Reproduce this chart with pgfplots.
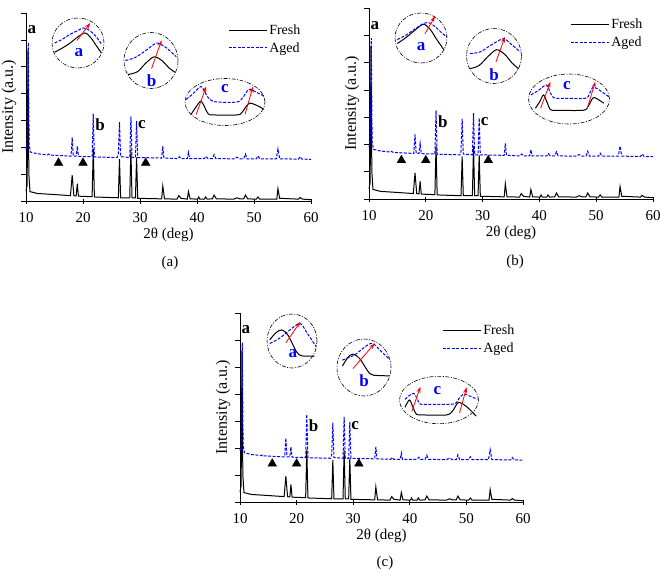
\documentclass[border=0pt]{standalone}
\usepackage{fontspec}
\setmainfont{Liberation Serif}
\usepackage{pgfplots}
\usepackage{pgfplotstable}
\pgfplotsset{compat=1.18}
\usetikzlibrary{arrows.meta}

\newcommand{\fs}[1]{\fontsize{#1}{#1}\selectfont}

% fresh sample
\pgfplotstableread{
x y
10.0 0.37
10.2 0.6
10.35 5.6
10.5 1.0
10.7 0.35
12 0.28
15 0.24
17.8 0.2
18.1 0.96
18.4 0.2
18.8 0.19
19.0 0.65
19.2 0.18
21.6 0.16
21.8 1.95
22.0 0.15
26.2 0.12
26.4 1.56
26.6 0.12
28.2 0.12
28.4 1.94
28.6 0.12
29.2 0.12
29.4 1.62
29.6 0.1
33.8 0.08
34.0 0.56
34.3 0.08
36.5 0.07
36.8 0.2
37.2 0.1
38.3 0.07
38.5 0.35
38.8 0.08
40.1 0.07
40.3 0.15
40.5 0.07
41.3 0.07
41.5 0.15
41.8 0.07
42.7 0.08
43.0 0.22
43.4 0.08
46.5 0.07
47.0 0.12
47.5 0.08
48.2 0.08
48.5 0.22
48.9 0.08
50.4 0.07
50.7 0.15
51.0 0.07
54.0 0.07
54.2 0.46
54.5 0.1
57.8 0.07
58.1 0.13
58.5 0.07
60.0 0.05
}\fresh

% aged sample
\pgfplotstableread{
x y
10.0 1.9
10.25 2.2
10.4 5.9
10.55 2.1
10.8 1.82
12 1.76
13.8 1.72
14.0 1.75
14.2 1.71
16 1.69
17.9 1.67
18.1 2.37
18.3 1.67
18.8 1.67
19.0 2.04
19.2 1.66
21.6 1.65
21.8 3.25
22.0 1.64
26.0 1.62
26.2 1.75
26.4 2.94
26.6 1.65
28.2 1.62
28.4 3.15
28.6 1.62
29.2 1.62
29.4 2.97
29.6 1.62
33.8 1.6
34.0 2.04
34.2 1.6
36.6 1.58
36.9 1.65
37.2 1.58
38.3 1.58
38.5 1.81
38.7 1.58
41.3 1.58
41.6 1.66
41.9 1.58
42.7 1.58
43.0 1.73
43.3 1.58
46.5 1.57
47.0 1.63
47.5 1.57
48.2 1.57
48.5 1.75
48.8 1.57
50.4 1.57
50.7 1.68
51.0 1.57
53.9 1.57
54.2 1.94
54.5 1.57
57.8 1.56
58.1 1.65
58.4 1.56
60.0 1.55
}\aged

\tikzset{lbl/.style={font=\bfseries\fs{17}}}

\pgfplotsset{
  xrd/.style={
    scale only axis, anchor=south west,
    xmin=10, xmax=60, ymin=0, ymax=7,
    axis x line*=bottom, axis y line*=left,
    xtick={10,20,...,60}, ytick={0,...,7}, yticklabels={},
    tick align=outside, major tick length=5pt,
    xtick style={yshift=2.5pt},
    tick style={black, line width=0.7pt},
    axis line style={line width=0.7pt},
    ticklabel style={font=\fs{15}},
    xticklabel style={yshift=-3pt},
    /pgf/number format/assume math mode=true,
    every axis x label/.style={at={([yshift=-34pt]axis description cs:0.5,0)}, anchor=center, font=\fs{15}},
    every axis y label/.style={at={([xshift=-17pt]axis description cs:0,0.5)}, anchor=center, rotate=90, font=\fs{16}},
    xlabel={2θ (deg)}, ylabel={Intensity (a.u.)},
    legend style={draw=none, fill=none, inner sep=0pt, anchor=north west, font=\fs{14},
      cells={anchor=west}, row sep=2pt},
    legend image code/.code={\draw[##1] (0pt,0pt) -- (38pt,0pt);},
    clip=false,
  },
  inset/.style={hide axis, anchor=center, xmin=-1, xmax=1, ymin=-1, ymax=1, clip=false},
}

\newcommand{\mainplots}{%
  \addplot[black, line width=1pt] table {\fresh};
  \addplot[blue, line width=1pt, dash pattern=on 3pt off 1.5pt] table {\aged};
  \legend{Fresh, Aged}
  \addplot[only marks, mark=triangle*, mark size=5pt, black, forget plot]
    coordinates {(15.7,1.42) (20,1.42) (31,1.42)};
  \node[lbl] at (axis cs:11.05,6.37) {a};
  \node[lbl] at (axis cs:23.0,2.83) {b};
  \node[lbl] at (axis cs:30.35,2.83) {c};
}

\newcommand{\arr}[2]{\draw[red, line width=0.8pt, -{Stealth[length=6pt,width=4pt]}] (axis cs:#1) -- (axis cs:#2);}
\newcommand{\ilbl}[2]{\node[blue, lbl] at (axis cs:#1) {#2};}

% cx cy rx ry black blue extras
\newcommand{\inset}[7]{%
  \begin{axis}[inset, at={(#1pt,-#2pt)}, x=#3pt, y=#4pt]
    \addplot[black, line width=1pt, smooth] coordinates {#5};
    \addplot[blue, line width=1pt, dash pattern=on 3pt off 1.5pt, smooth] coordinates {#6};
    #7
  \end{axis}
  \draw[line width=0.6pt, dash pattern=on 4pt off 1.5pt on 1pt off 1.5pt]
    (#1pt,-#2pt) ellipse [x radius=#3pt, y radius=#4pt];
}

\begin{document}
\begin{tikzpicture}
\useasboundingbox (0pt,0pt) rectangle (660pt,-571pt);

% ---------- (a)
\begin{axis}[xrd, at={(26pt,-201pt)}, width=285pt, height=188pt,
  legend style={at={(axis description cs:0.709,0.947)}}]
  \mainplots
\end{axis}
\inset{78}{43}{26}{25}
  {(-0.9,-0.37) (-0.6,-0.2) (-0.3,0.0) (0,0.25) (0.28,0.4) (0.5,0.2) (0.7,-0.1) (0.9,-0.4)}
  {(-0.9,0) (-0.6,0.15) (-0.3,0.35) (0,0.5) (0.2,0.6) (0.45,0.5) (0.7,0.25) (0.9,-0.04)}
  {\arr{-0.04,0.1}{0.47,0.8} \ilbl{0.03,-0.37}{a}}
\inset{151}{60.5}{27}{28}
  {(-0.85,-0.5) (-0.5,-0.4) (-0.2,-0.1) (0.11,0.13) (0.4,0.0) (0.65,-0.25) (0.88,-0.42)}
  {(-0.95,0) (-0.6,0.1) (-0.2,0.35) (0.2,0.62) (0.5,0.5) (0.75,0.3) (0.94,0.13)}
  {\arr{0.02,-0.29}{0.39,0.72} \ilbl{0.02,-0.72}{b}}
\inset{225}{102}{40}{23.5}
  {(-0.85,-0.53) (-0.72,-0.2) (-0.6,0.04) (-0.5,-0.25) (-0.42,-0.5) (-0.3,-0.55) (0.3,-0.55) (0.42,-0.45) (0.6,-0.06) (0.8,-0.15) (0.97,-0.31)}
  {(-0.97,0.11) (-0.8,0.35) (-0.6,0.66) (-0.48,0.35) (-0.38,0.11) (-0.2,0.0) (0.3,0.0) (0.45,0.2) (0.6,0.54) (0.8,0.4) (0.97,0.26)}
  {\arr{-0.72,-0.53}{-0.47,0.66} \arr{0.5,-0.53}{0.7,0.66} \ilbl{0,0.57}{c}}
\node[font=\fs{15}] at (170pt,-263pt) {(a)};

% ---------- (b)
\begin{axis}[xrd, at={(369pt,-199pt)}, width=284pt, height=191pt,
  legend style={at={(axis description cs:0.708,0.953)}}]
  \mainplots
\end{axis}
\inset{421}{38}{26}{25}
  {(-0.91,-0.22) (-0.6,0.0) (-0.25,0.3) (0.09,0.55) (0.35,0.35) (0.6,-0.05) (0.88,-0.47)}
  {(-0.91,-0.06) (-0.6,0.1) (-0.25,0.35) (0.05,0.55) (0.28,0.62) (0.55,0.45) (0.8,0.2) (1.0,0.04)}
  {\arr{0.15,0.17}{0.54,0.87} \ilbl{0,-0.35}{a}}
\inset{494}{56}{27.5}{27.5}
  {(-0.88,-0.46) (-0.55,-0.35) (-0.2,0.0) (0.1,0.23) (0.4,0.05) (0.65,-0.25) (0.89,-0.46)}
  {(-0.88,0.09) (-0.5,0.15) (-0.1,0.4) (0.34,0.63) (0.6,0.45) (0.95,0.15)}
  {\arr{0.07,-0.22}{0.4,0.7} \ilbl{0,-0.67}{b}}
\inset{569}{99}{40.5}{25}
  {(-0.83,-0.37) (-0.72,-0.1) (-0.63,0.16) (-0.55,-0.1) (-0.46,-0.42) (-0.3,-0.45) (0.35,-0.45) (0.47,-0.3) (0.6,0.05) (0.75,-0.05) (0.86,-0.17)}
  {(-0.94,0.16) (-0.75,0.35) (-0.56,0.56) (-0.46,0.25) (-0.38,0.05) (-0.2,0.03) (0.4,0.03) (0.5,0.2) (0.6,0.47) (0.8,0.3) (0.98,0.09)}
  {\arr{-0.7,-0.37}{-0.46,0.69} \arr{0.45,-0.37}{0.65,0.69} \ilbl{-0.05,0.52}{c}}
\node[font=\fs{15}] at (515pt,-262pt) {(b)};

% ---------- (c)
\begin{axis}[xrd, at={(240pt,-502pt)}, width=283pt, height=189pt,
  legend style={at={(axis description cs:0.714,0.947)}}]
  \mainplots
\end{axis}
\inset{292}{341}{25}{27}
  {(-0.89,0.04) (-0.65,0.3) (-0.41,0.41) (-0.15,0.2) (0.18,-0.4) (0.4,-0.55) (0.9,-0.56)}
  {(-0.89,-0.09) (-0.5,0.1) (-0.1,0.4) (0.32,0.65) (0.6,0.3) (0.97,-0.21)}
  {\arr{-0.24,-0.06}{0.34,0.72} \ilbl{0.03,-0.48}{a}}
\inset{364}{367.5}{27}{28.5}
  {(-0.8,0.05) (-0.6,0.35) (-0.41,0.47) (-0.15,0.3) (0.21,-0.21) (0.5,-0.28) (0.95,-0.29)}
  {(-0.8,0.26) (-0.35,0.44) (0.0,0.7) (0.31,0.85) (0.6,0.6) (0.95,0.28)}
  {\arr{-0.41,-0.04}{0.4,0.85} \ilbl{0,-0.45}{b}}
\inset{439}{400}{39.5}{23.7}
  {(-0.86,-0.31) (-0.75,0) (-0.66,-0.3) (-0.57,-0.6) (-0.4,-0.63) (0.19,-0.63) (0.35,-0.45) (0.49,-0.11) (0.7,-0.28) (0.94,-0.68)}
  {(-0.86,0.03) (-0.64,0.28) (-0.48,-0.17) (-0.3,-0.18) (0.36,-0.17) (0.5,0.05) (0.62,0.25) (0.8,0.15) (0.97,0.03)}
  {\arr{-0.69,-0.49}{-0.47,0.56} \arr{0.52,-0.54}{0.7,0.54} \ilbl{-0.04,0.39}{c}}
\node[font=\fs{15}] at (385pt,-563pt) {(c)};
\end{tikzpicture}
\end{document}
